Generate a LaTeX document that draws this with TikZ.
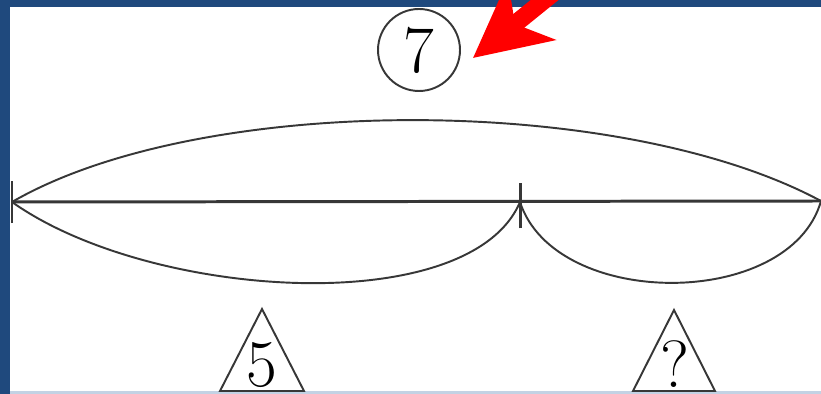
\documentclass[tikz,border=0pt]{standalone}
\usetikzlibrary{arrows.meta}
\definecolor{frameblue}{RGB}{31,73,125}
\definecolor{framelight}{RGB}{195,210,228}
\definecolor{inkgray}{RGB}{55,55,55}

\begin{document}
\begin{tikzpicture}[
    x=0.02cm, y=-0.02cm,
    numcircle/.style={
        draw=inkgray,
        circle,
        line width=1.1pt,
        minimum size=1.64cm,
        inner sep=0pt,
        font=\fontsize{38}{40}\selectfont
    },
    numtext/.style={
        inner sep=0pt,
        font=\fontsize{38}{40}\selectfont
    },
    segline/.style={
        draw=inkgray,
        line width=1.7pt
    },
    arcline/.style={
        draw=inkgray,
        line width=1.1pt
    },
    pointer/.style={
        -{Stealth[length=1.5cm, width=1.5cm, inset=0.42cm]},
        red,
        line width=10pt
    }
]
\useasboundingbox (0,0) rectangle (821,394);
\clip (0,0) rectangle (821,394);

% Frame
\fill[white] (0,0) rectangle (821,394);
\fill[framelight] (0,391) rectangle (821,394);

% Segment with end points
\coordinate (lineL) at (12,202);
\coordinate (lineM) at (520,202);
\coordinate (lineR) at (821,201);
\draw[segline] (lineL) -- (lineR);
\draw[segline] ([yshift=-15]lineM) -- ([yshift=11]lineM);
\draw[segline] ([yshift=-12]lineL) -- ([yshift=12]lineL);

% Arcs: whole above, parts below
\draw[arcline] (lineL) .. controls (200,93) and (620,93) .. (lineR);
\draw[arcline] (lineL) .. controls (150,300) and (470,320) .. (lineM);
\draw[arcline] (lineM) .. controls (555,310) and (790,310) .. (lineR);

% Total
\node[numcircle] (seven) at (419,50) {7};

% Parts in triangles
\coordinate (fiveTop) at (262,309);
\coordinate (askTop) at (674,310);
\draw[arcline] (fiveTop) -- ++(-42,82) -- ++(84,0) -- cycle;
\draw[arcline] (askTop) -- ++(-41,81) -- ++(82,0) -- cycle;
\node[numtext] (five) at (262,365) {5};
\node[numtext] (ask) at (675,364) {?};

% Borders
\fill[frameblue] (0,0) rectangle (821,7);
\fill[frameblue] (0,0) rectangle (10,394);

% Red pointer
\coordinate (pointTail) at (589,-36);
\coordinate (pointTip) at ([shift={(12,8)}]seven.east);
\draw[pointer] (pointTail) -- (pointTip);

\end{tikzpicture}
\end{document}
